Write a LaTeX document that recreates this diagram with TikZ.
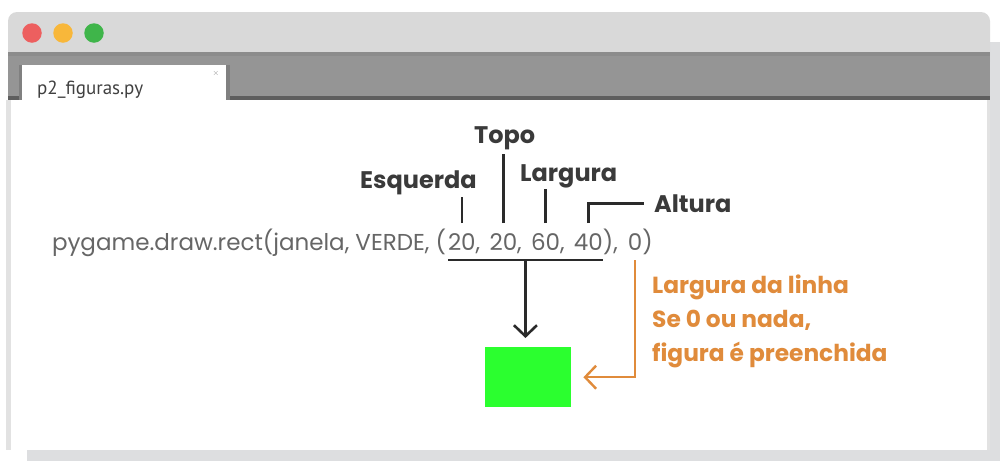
\documentclass[tikz,border=0pt]{standalone}
\usepackage{fontspec}
\setmainfont{Poppins}
\newfontfamily\tabfont{PT Sans}
\usetikzlibrary{arrows.meta,calc}
\definecolor{topgray}{HTML}{D9D9D9}
\definecolor{bargray}{HTML}{959595}
\definecolor{bardark}{HTML}{5E5E5E}
\definecolor{shadowgray}{HTML}{DDDEE0}
\definecolor{edgegray}{HTML}{E2E2E2}
\definecolor{redbtn}{HTML}{ED5F5F}
\definecolor{yellowbtn}{HTML}{F8B73A}
\definecolor{greenbtn}{HTML}{3FB54A}
\definecolor{codegray}{HTML}{666666}
\definecolor{lblgray}{HTML}{3A3A3A}
\definecolor{linegray}{HTML}{2A2A2A}
\definecolor{noteorange}{HTML}{E08B3B}
\definecolor{rectgreen}{HTML}{2BFF2F}
\tikzset{
  code/.style={font=\fontsize{23}{23}\selectfont, text=codegray, inner sep=0pt, outer sep=0pt, anchor=base west},
  lbl/.style={font=\bfseries\fontsize{24}{24}\selectfont, text=lblgray, inner sep=0pt, anchor=base west},
  note/.style={font=\bfseries\fontsize{23.3}{23.3}\selectfont, text=noteorange, inner sep=0pt, anchor=base west},
  tick/.style={line width=2.6pt, draw=linegray},
  oline/.style={line width=2.4pt, draw=noteorange},
  barb/.style={-{Straight Barb[length=11pt, width=23pt]}},
  btn/.style={circle, minimum size=19.5pt, inner sep=0pt},
}
\begin{document}
\begin{tikzpicture}[x=1pt,y=-1pt]
\useasboundingbox (0,0) rectangle (1000,461);
% shadows
\fill[shadowgray] (990,42) rectangle (1000,461);
\fill[shadowgray] (27,450) rectangle (1000,461);
% window top bar
\fill[topgray, rounded corners=9pt] (8,12) rectangle (990,70);
% tab bar
\fill[bargray] (8,52) rectangle (990,100);
\fill[black!45] (8,52) rectangle (990,56);
\fill[bardark] (8,96) rectangle (990,100);
% body
\fill[white] (8,100) rectangle (990,450);
\fill[edgegray] (6,100) rectangle (11,450);
\fill[edgegray] (987,100) rectangle (990,450);
% tab
\fill[black!50] (226,65) rectangle (230,100);
\fill[black!50] (19,65) rectangle (22,100);
\fill[white] (22,65) rectangle (226,101);
\node[font=\fontsize{8}{8}\selectfont, text=black!45, inner sep=0pt] (close) at (216,73) {$\times$};
\node[font=\tabfont\fontsize{19}{19}\selectfont, text=black!75, inner sep=0pt, anchor=base west] (title) at (37,94) {p2\_figuras.py};
% buttons
\node[btn, fill=redbtn] (b1) at (32,33) {};
\node[btn, fill=yellowbtn] (b2) at (63,33) {};
\node[btn, fill=greenbtn] (b3) at (94,33) {};
% code line
\def\spc{9.3pt}
\node[code] (c0) at (52,250) {pygame.draw.rect(janela, VERDE, (};
\node[code] (n1) at ([xshift=2pt]c0.base east) {20};
\node[code] (k1) at (n1.base east) {,};
\node[code] (n2) at ([xshift=\spc]k1.base east) {20};
\node[code] (k2) at (n2.base east) {,};
\node[code] (n3) at ([xshift=\spc]k2.base east) {60};
\node[code] (k3) at (n3.base east) {,};
\node[code] (n4) at ([xshift=\spc]k3.base east) {40};
\node[code] (k4) at (n4.base east) {),};
\node[code] (z) at ([xshift=10pt]k4.base east) {0};
\node[code] (k5) at (z.base east) {)};
% labels
\node[lbl] (esq) at (360,188) {Esquerda};
\node[lbl] (topo) at (474,143) {Topo};
\node[lbl] (larg) at (520,181) {Largura};
\node[lbl] (alt) at (654,212) {Altura};
% tick levels
\coordinate (tb) at (0,223);
\coordinate (t1) at (0,197);
\coordinate (t2) at (0,154);
\coordinate (t3) at (0,189);
\coordinate (bl) at (0,260);
\draw[tick] (n1.north |- tb) -- (n1.north |- t1);
\draw[tick] (n2.north |- tb) -- (n2.north |- t2);
\draw[tick] (n3.north |- tb) -- (n3.north |- t3);
\draw[tick] (n4.north |- tb) |- ([xshift=-10pt]alt.west);
% bracket and arrow to rectangle
\node[fill=rectgreen, minimum width=86pt, minimum height=60pt, inner sep=0pt, anchor=north west] (green) at (485,347) {};
\draw[tick] (n1.west |- bl) -- (n4.east |- bl);
\draw[tick, barb, shorten >=9pt] ($(n1.west |- bl)!0.5!(n4.east |- bl)$) -- ($(n1.west |- bl)!0.5!(n4.east |- bl) + (0,87)$);
% orange note
\draw[oline, barb] (z.south |- bl) |- ([xshift=12pt]green.east);
\node[note] (note1) at (652,293) {Largura da linha};
\node[note] (note2) at (652,327) {Se 0 ou nada,};
\node[note] (note3) at (652,361) {figura é preenchida};
\end{tikzpicture}
\end{document}
